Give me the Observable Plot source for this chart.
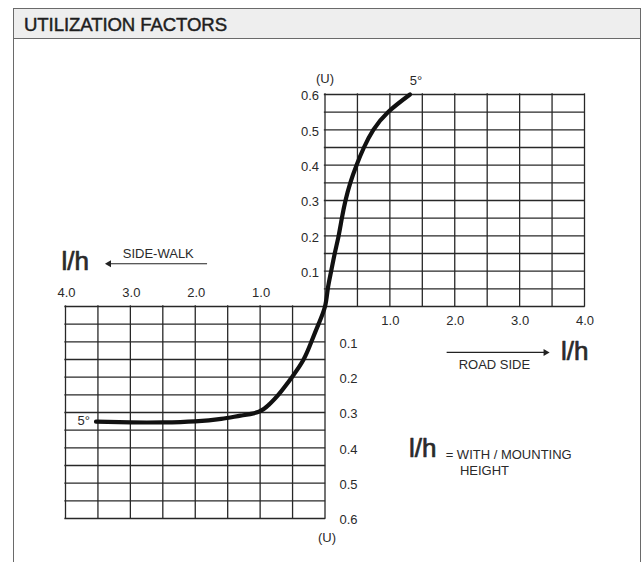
<!DOCTYPE html>
<html>
<head>
<meta charset="utf-8">
<script src="https://cdn.jsdelivr.net/npm/d3@7"></script>
<script src="https://cdn.jsdelivr.net/npm/@observablehq/plot@0.6"></script>
<style>
  html, body { margin: 0; padding: 0; background: #fff; }
  #page { position: relative; width: 643px; height: 562px; overflow: hidden;
          font-family: "Liberation Sans", Arial, Helvetica, sans-serif; }
  #frame { position: absolute; left: 13px; top: 8px; width: 628px; height: 600px;
           box-sizing: border-box; border: 1.5px solid #6a6a6a; border-bottom: none; }
  #header { position: absolute; left: 13px; top: 8px; width: 628px; height: 31px;
            box-sizing: border-box; background: #eeeeee; border: 1.5px solid #6a6a6a; }
  #title { position: absolute; left: 10px; top: 6px; margin: 0; font-size: 18.6px; line-height: 20px;
           font-weight: normal; color: #1e1e1e; -webkit-text-stroke: 0.45px #1e1e1e; letter-spacing: -0.1px; }
  #chart { position: absolute; left: 0; top: 0; }
</style>
</head>
<body>
<div id="page">
  <div id="frame"></div>
  <div id="header"><h1 id="title">UTILIZATION FACTORS</h1></div>
  <div id="chart"></div>
</div>
<script>
// Grid divisions (l/h and U)
const gridL = [0, 0.5, 1.0, 1.5, 2.0, 2.5, 3.0, 3.5, 4.0];
const gridU = [0, 0.05, 0.1, 0.15, 0.2, 0.25, 0.3, 0.35, 0.4, 0.45, 0.5, 0.55, 0.6];

// Tick labels
const roadSideTicks = [1.0, 2.0, 3.0, 4.0];
const sideWalkTicks = [1.0, 2.0, 3.0, 4.0];
const uTicks = [0.1, 0.2, 0.3, 0.4, 0.5, 0.6];

// Utilization curve (5° tilt), road side branch: l/h and U
const roadSideL = [0, 0.043, 0.095, 0.15, 0.21, 0.26, 0.316, 0.39, 0.486, 0.6, 0.745, 0.97, 1.31];
const roadSideU = [0, 0.05, 0.1, 0.15, 0.2, 0.25, 0.3, 0.35, 0.4, 0.45, 0.5, 0.55, 0.6];

// Side-walk branch: l/h and U
const sideWalkL = [0, 0.1, 0.21, 0.33, 0.51, 0.72, 0.86, 1.02, 1.3, 1.6, 2.0, 2.5, 3.0, 3.53];
const sideWalkU = [0, 0.05, 0.1, 0.15, 0.2, 0.25, 0.277, 0.298, 0.309, 0.318, 0.325, 0.328, 0.328, 0.326];

const tiltLabel = "5°";

const pts = [
  ...sideWalkL.map((l, i) => ({x: -l, y: -sideWalkU[i]})).reverse(),
  ...roadSideL.slice(1).map((l, i) => ({x: l, y: roadSideU[i + 1]}))
];
const lMax = d3.max(gridL), uMax = d3.max(gridU);
const font = '"Liberation Sans", Arial, Helvetica, sans-serif';
const gridColor = "#282828";
const textColor = "#2a2a2a";
const gs = {stroke: gridColor, strokeWidth: 1.3, strokeLinecap: "square"};
const fmt = d => d.toFixed(1);
const tick = {fontSize: 13, fill: textColor};
const big = {fontSize: 26, fill: textColor, stroke: textColor, strokeWidth: 0.7, lineAnchor: "bottom"};

const plot = Plot.plot({
  width: 643, height: 562,
  marginLeft: 65, marginRight: 59, marginTop: 94, marginBottom: 44,
  x: {domain: [-lMax, lMax], axis: null},
  y: {domain: [-uMax, uMax], axis: null},
  style: {background: "transparent", fontFamily: font, color: textColor, overflow: "visible"},
  marks: [
    // road-side grid (upper right)
    Plot.ruleX(gridL, {x: d => d, y1: 0, y2: uMax, ...gs}),
    Plot.ruleY(gridU, {y: d => d, x1: 0, x2: lMax, ...gs}),
    // side-walk grid (lower left)
    Plot.ruleX(gridL, {x: d => -d, y1: -uMax, y2: 0, ...gs}),
    Plot.ruleY(gridU, {y: d => -d, x1: -lMax, x2: 0, ...gs}),
    // curve
    Plot.line(pts, {x: "x", y: "y", curve: "natural", stroke: "#111", strokeWidth: 4.2}),
    // U tick labels
    Plot.text(uTicks, {x: 0, y: d => d, text: fmt, textAnchor: "end", dx: -6, dy: 1.5, ...tick}),
    Plot.text(uTicks, {x: 0, y: d => -d, text: fmt, textAnchor: "start", dx: 14.5, dy: 1.5, ...tick}),
    Plot.text(["(U)"], {x: 0, y: uMax, text: d => d, dy: -16, ...tick}),
    Plot.text(["(U)"], {x: 0, y: -uMax, text: d => d, dx: 2, dy: 19, ...tick}),
    // l/h tick labels
    Plot.text(sideWalkTicks, {x: d => -d, y: 0, text: fmt, dx: 1, dy: -13.5, ...tick}),
    Plot.text(roadSideTicks, {x: d => d, y: 0, text: fmt, dx: 0.5, dy: 14.5, ...tick}),
    // tilt labels
    Plot.text([pts[pts.length - 1]], {x: "x", y: "y", text: () => tiltLabel, dx: 6, dy: -14, ...tick}),
    Plot.text([pts[0]], {x: "x", y: "y", text: () => tiltLabel, textAnchor: "end", dx: -6, dy: -1, ...tick}),
    // side-walk annotation
    Plot.text(["l/h"], {x: -3.85, y: 0.102, text: d => d, ...big}),
    Plot.link([0], {x1: -1.818, y1: 0.121, x2: -3.33, y2: 0.121, stroke: "#222", strokeWidth: 1.2}),
    Plot.dot([0], {x: -3.33, y: 0.121, symbol: "triangle", r: 2.6, fill: "#222", rotate: -90}),
    Plot.text(["SIDE-WALK"], {x: -2.57, y: 0.138, text: d => d, lineAnchor: "bottom", fontSize: 13, fill: textColor}),
    // road-side annotation
    Plot.text(["l/h"], {x: 3.85, y: -0.151, text: d => d, ...big}),
    Plot.link([0], {x1: 1.875, y1: -0.130, x2: 3.40, y2: -0.130, stroke: "#222", strokeWidth: 1.2}),
    Plot.dot([0], {x: 3.40, y: -0.130, symbol: "triangle", r: 2.6, fill: "#222", rotate: 90}),
    Plot.text(["ROAD SIDE"], {x: 2.611, y: -0.178, text: d => d, lineAnchor: "bottom", fontSize: 13, fill: textColor}),
    // definition
    Plot.text(["l/h"], {x: 1.293, y: -0.4265, text: d => d, textAnchor: "start", ...big}),
    Plot.text(["= WITH / MOUNTING"], {x: 1.86, y: -0.431, text: d => d, textAnchor: "start", lineAnchor: "bottom", fontSize: 13, fill: textColor}),
    Plot.text(["HEIGHT"], {x: 2.08, y: -0.476, text: d => d, textAnchor: "start", lineAnchor: "bottom", fontSize: 13, fill: textColor})
  ]
});
document.getElementById("chart").appendChild(plot);
</script>
</body>
</html>
